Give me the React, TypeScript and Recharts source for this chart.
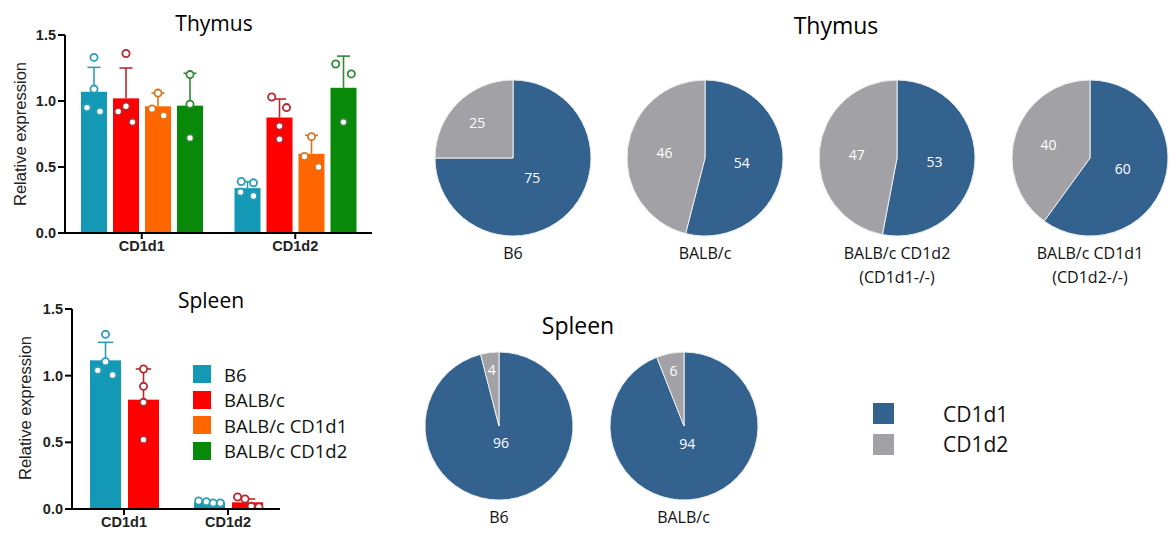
import React from 'react';
import { BarChart, Bar, XAxis, YAxis, PieChart, Pie, Cell } from 'recharts';

// ---- data ----
const genes = ['CD1d1', 'CD1d2'];
const strains = ['B6', 'BALB/c', 'BALB/c CD1d1', 'BALB/c CD1d2'];

// thymus qPCR, relative expression (mean, SD, single mice)
const thymusB6 = [1.07, 0.34];
const thymusBalbc = [1.02, 0.875];
const thymusBalbcCd1d1 = [0.96, 0.6];
const thymusBalbcCd1d2 = [0.965, 1.1];
const thymusB6Sd = [0.185, 0.05];
const thymusBalbcSd = [0.23, 0.14];
const thymusBalbcCd1d1Sd = [0.1, 0.14];
const thymusBalbcCd1d2Sd = [0.245, 0.24];
const thymusB6Pts = [[1.33, 1.09, 0.95, 0.92], [0.39, 0.38, 0.31, 0.28]];
const thymusBalbcPts = [[1.36, 0.96, 0.92, 0.84], [1.03, 0.95, 0.81, 0.71]];
const thymusBalbcCd1d1Pts = [[1.06, 0.94, 0.89], [0.73, 0.58, 0.5]];
const thymusBalbcCd1d2Pts = [[1.2, 0.975, 0.72], [1.28, 1.205, 0.84]];

// spleen qPCR
const spleenB6 = [1.115, 0.048];
const spleenBalbc = [0.82, 0.05];
const spleenB6Sd = [0.135, 0.012];
const spleenBalbcSd = [0.23, 0.025];
const spleenB6Pts = [[1.31, 1.105, 1.04, 1.005], [0.06, 0.055, 0.045, 0.045]];
const spleenBalbcPts = [[1.05, 0.92, 0.8, 0.52], [0.09, 0.075, 0.02, 0.015]];

// pie charts, % of CD1d transcripts
const thymusPieGroups = ['B6', 'BALB/c', 'BALB/c CD1d2\n(CD1d1-/-)', 'BALB/c CD1d1\n(CD1d2-/-)'];
const thymusPieCd1d1 = [75, 54, 53, 60];
const thymusPieCd1d2 = [25, 46, 47, 40];
const spleenPieGroups = ['B6', 'BALB/c'];
const spleenPieCd1d1 = [96, 94];
const spleenPieCd1d2 = [4, 6];
const pieKeys = ['CD1d1', 'CD1d2'];

const yTicks = [0, 0.5, 1, 1.5];

// ---- styles ----
const BAR_COLORS = ['#1399b5', '#ff0000', '#ff6600', '#08890a'];
const DOT_COLORS = ['#2d9db6', '#b8282f', '#d9741c', '#2f8a34'];
const PIE_COLORS = ['#33628f', '#a1a1a6'];
const SERIES_KEYS = ['b6', 'balbc', 'balbcD1', 'balbcD2'];

// horizontal jitter of single dots, as fraction of bar width
const THYMUS_JITTER = [
  [[0, 0, -0.27, 0.23], [-0.24, 0.23, -0.27, 0.23]],
  [[0, 0, -0.3, 0.25], [-0.3, 0.27, 0, 0]],
  [[0, -0.23, 0.22], [0, -0.27, 0.27]],
  [[0, 0, 0], [-0.3, 0.3, 0]],
];
const SPLEEN_JITTER = [
  [[0, 0, -0.25, 0.23], [-0.35, -0.1, 0.12, 0.35]],
  [[0, 0, 0, 0], [-0.32, -0.08, 0.12, 0.37]],
];

const SANS = '"Liberation Sans", Arial, sans-serif';
const CAL = '"Open Sans", "Noto Sans", sans-serif';

function buildRows(means: number[][], sds: number[][], pts: number[][][]) {
  return genes.map((g, i) => {
    const row: any = { name: g, i };
    means.forEach((m, s) => {
      row[SERIES_KEYS[s]] = m[i];
      row[SERIES_KEYS[s] + 'Sd'] = sds[s][i];
      row[SERIES_KEYS[s] + 'Pts'] = pts[s][i];
    });
    return row;
  });
}

const thymusRows = buildRows(
  [thymusB6, thymusBalbc, thymusBalbcCd1d1, thymusBalbcCd1d2],
  [thymusB6Sd, thymusBalbcSd, thymusBalbcCd1d1Sd, thymusBalbcCd1d2Sd],
  [thymusB6Pts, thymusBalbcPts, thymusBalbcCd1d1Pts, thymusBalbcCd1d2Pts]
);
const spleenRows = buildRows(
  [spleenB6, spleenBalbc],
  [spleenB6Sd, spleenBalbcSd],
  [spleenB6Pts, spleenBalbcPts]
);

function dotShape(s: number, jitter: number[][][]) {
  const key = SERIES_KEYS[s];
  return (p: any) => {
    const { x, y, width, height, payload } = p;
    const mean = payload[key];
    const k = mean ? height / mean : 0; // px per unit, from the bar itself
    const base = y + height;
    const cx = x + width / 2;
    const top = base - (mean + payload[key + 'Sd']) * k;
    const dark = DOT_COLORS[s];
    const pts: number[] = payload[key + 'Pts'];
    return (
      <g>
        <rect x={x} y={y} width={width} height={height} fill={BAR_COLORS[s]} />
        <line x1={cx} x2={cx} y1={y} y2={top} stroke={dark} strokeWidth={1.6} />
        <line x1={cx - width / 4} x2={cx + width / 4} y1={top} y2={top} stroke={dark} strokeWidth={1.6} />
        {pts.map((v, j) => (
          <circle
            key={j}
            cx={cx + jitter[s][payload.i][j] * width}
            cy={base - v * k}
            r={3.6}
            fill="#fff"
            stroke={dark}
            strokeWidth={1.8}
          />
        ))}
      </g>
    );
  };
}

const tickStyle = { fontFamily: SANS, fontWeight: 700, fontSize: 14.5, fill: '#222' };

function QpcrChart(props: { rows: any[]; n: number; jitter: number[][][]; width: number; height: number; top: number; right: number; yw: number; xh: number; gap: number; barGap: number }) {
  return (
    <BarChart
      width={props.width}
      height={props.height}
      data={props.rows}
      margin={{ top: props.top, right: props.right, bottom: 0, left: 0 }}
      barCategoryGap={props.gap}
      barGap={props.barGap}
    >
      <XAxis
        dataKey="name"
        height={props.xh}
        axisLine={{ stroke: '#000', strokeWidth: 2 }}
        tickLine={{ stroke: '#000', strokeWidth: 2 }}
        tickSize={6}
        tick={tickStyle}
        interval={0}
      />
      <YAxis
        width={props.yw}
        domain={[0, 1.5]}
        ticks={yTicks}
        tickFormatter={(v: number) => v.toFixed(1)}
        axisLine={{ stroke: '#000', strokeWidth: 2 }}
        tickLine={{ stroke: '#000', strokeWidth: 2 }}
        tickSize={7}
        tickMargin={2}
        tick={tickStyle}
        allowDataOverflow
      />
      {SERIES_KEYS.slice(0, props.n).map((k, s) => (
        <Bar key={k} dataKey={k} fill={BAR_COLORS[s]} isAnimationActive={false} shape={dotShape(s, props.jitter)} />
      ))}
    </BarChart>
  );
}

const RAD = Math.PI / 180;
function pieLabel(p: any) {
  const { cx, cy, midAngle, outerRadius, percent, value } = p;
  const r = outerRadius * (0.8 - 0.6 * percent);
  const x = cx + r * Math.cos(-midAngle * RAD);
  const y = cy + r * Math.sin(-midAngle * RAD);
  return (
    <text x={x} y={y} fill="#fff" fontFamily={CAL} fontSize={14} textAnchor="middle" dominantBaseline="central">
      {value}
    </text>
  );
}

function OnePie(props: { a: number; b: number; cx: number; cy: number; r: number; caption: string }) {
  const size = props.r * 2 + 10;
  const data = [
    { name: pieKeys[0], value: props.a },
    { name: pieKeys[1], value: props.b },
  ];
  return (
    <>
      <div style={{ position: 'absolute', left: props.cx - size / 2, top: props.cy - size / 2 }}>
        <PieChart width={size} height={size} margin={{ top: 0, right: 0, bottom: 0, left: 0 }}>
          <Pie
            data={data}
            dataKey="value"
            cx="50%"
            cy="50%"
            outerRadius={props.r}
            startAngle={90}
            endAngle={-270}
            stroke="#eeeeee"
            strokeWidth={1}
            label={pieLabel}
            labelLine={false}
            isAnimationActive={false}
          >
            {data.map((d, i) => (
              <Cell key={d.name} fill={PIE_COLORS[i]} />
            ))}
          </Pie>
        </PieChart>
      </div>
      <div
        style={{
          position: 'absolute',
          left: props.cx,
          top: props.cy + props.r + 5,
          transform: 'translateX(-50%)',
          textAlign: 'center',
          whiteSpace: 'pre',
          fontFamily: CAL,
          fontSize: 16,
          lineHeight: '24px',
          color: '#111',
        }}
      >
        {props.caption}
      </div>
    </>
  );
}

const abs = (left: number, top: number, extra: any = {}) => ({ position: 'absolute' as const, left, top, ...extra });
const center = { transform: 'translate(-50%, -50%)', whiteSpace: 'nowrap' as const };
const yLabel = { ...center, transform: 'translate(-50%, -50%) rotate(-90deg)', fontFamily: SANS, fontSize: 16.5, color: '#222' };

export default function App() {
  const thymusX = [513, 705, 897, 1090];
  const spleenX = [499, 683.5];
  return (
    <div style={{ position: 'absolute', left: 0, top: 0, width: 1169, height: 540, overflow: 'hidden', background: '#fff' }}>
      {/* qPCR thymus */}
      <div style={abs(0, 0)}>
        <QpcrChart rows={thymusRows} n={4} jitter={THYMUS_JITTER} width={380} height={260} top={35} right={8} yw={65} xh={27} gap={16} barGap={6} />
      </div>
      <div style={abs(214, 23, { ...center, fontFamily: CAL, fontSize: 21 })}>Thymus</div>
      <div style={abs(20, 134, yLabel)}>Relative expression</div>

      {/* qPCR spleen */}
      <div style={abs(0, 290)}>
        <QpcrChart rows={spleenRows} n={2} jitter={SPLEEN_JITTER} width={290} height={250} top={19} right={10} yw={72} xh={31} gap={18} barGap={7} />
      </div>
      <div style={abs(211, 300, { ...center, fontFamily: CAL, fontSize: 21 })}>Spleen</div>
      <div style={abs(25, 408, yLabel)}>Relative expression</div>
      {strains.map((s, i) => (
        <div key={s} style={abs(193, 365 + i * 25.5, { display: 'flex', alignItems: 'center', height: 18 })}>
          <div style={{ width: 18, height: 18, background: BAR_COLORS[i] }} />
          <div style={{ marginLeft: 13, fontFamily: CAL, fontSize: 18.5, whiteSpace: 'nowrap', color: '#111' }}>{s}</div>
        </div>
      ))}

      {/* pie charts */}
      <div style={abs(836, 25, { ...center, fontFamily: CAL, fontSize: 23 })}>Thymus</div>
      {thymusPieGroups.map((g, i) => (
        <OnePie key={g} a={thymusPieCd1d1[i]} b={thymusPieCd1d2[i]} cx={thymusX[i]} cy={158} r={78} caption={g} />
      ))}
      <div style={abs(578, 325, { ...center, fontFamily: CAL, fontSize: 23 })}>Spleen</div>
      {spleenPieGroups.map((g, i) => (
        <OnePie key={g} a={spleenPieCd1d1[i]} b={spleenPieCd1d2[i]} cx={spleenX[i]} cy={425.5} r={74} caption={g} />
      ))}
      {pieKeys.map((k, i) => (
        <div key={k} style={abs(873, 403 + i * 30.5, { display: 'flex', alignItems: 'center', height: 21 })}>
          <div style={{ width: 21, height: 21, background: PIE_COLORS[i] }} />
          <div style={{ marginLeft: 49, fontFamily: CAL, fontSize: 21, color: '#111' }}>{k}</div>
        </div>
      ))}
    </div>
  );
}
